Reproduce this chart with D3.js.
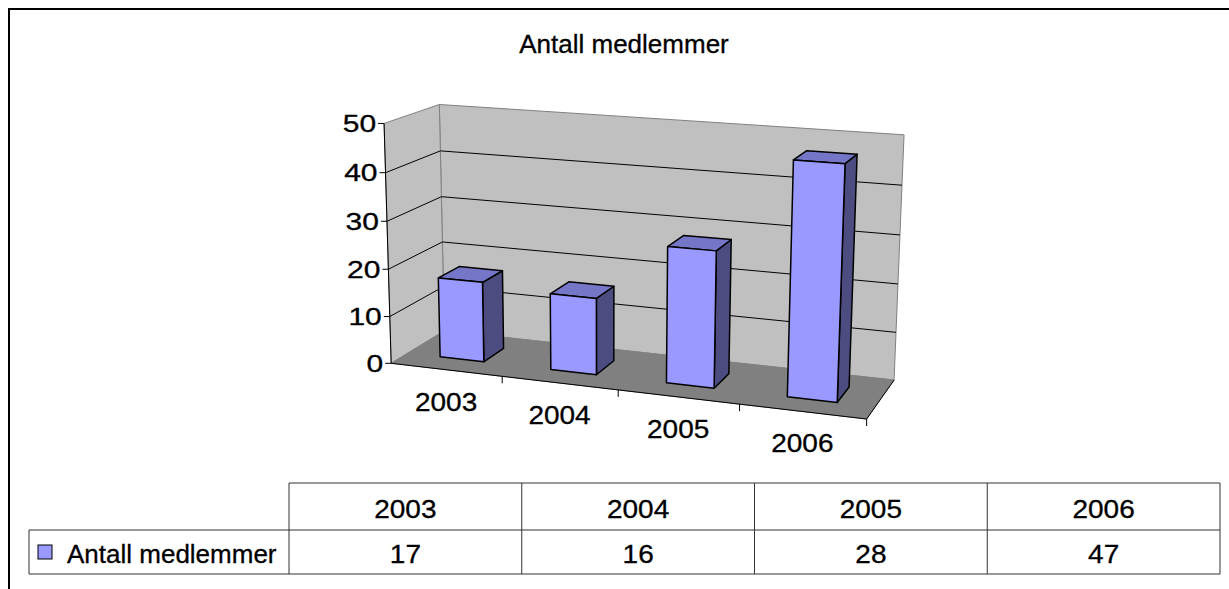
<!DOCTYPE html>
<html>
<head>
<meta charset="utf-8">
<script src="https://cdn.jsdelivr.net/npm/d3@7"></script>
<style>
    body { margin: 0; background: #fff; }
    text { font-family: Arial, "Liberation Sans", sans-serif; fill: #000; stroke: #000; stroke-width: 0.3px; }
</style>
</head>
<body>
<script>
'use strict';

// chart data
const years = ["2003", "2004", "2005", "2006"];
const members = [17, 16, 28, 47];
const seriesName = "Antall medlemmer";
const yTicks = [0, 10, 20, 30, 40, 50];

const W = 1229, H = 589;

// screen positions of the 3d plot box, used to fit the perspective
// [x, value, depth] in 0..1 -> [px, py]
const boxAnchors = [
    [0, 0, 0, 392, 363], [0, 1, 0, 383, 124], [0, 0, 1, 443, 333], [0, 1, 1, 440, 104],
    [1, 0, 1, 894, 379], [1, 1, 1, 904, 135], [1, 0, 0, 867, 420],
    [0.25, 0, 0, 503, 375], [0.5, 0, 0, 618, 390], [0.75, 0, 0, 739, 405],
    [0, 0.8, 0, 385, 173], [0, 0.6, 0, 387, 221], [0, 0.4, 0, 388.5, 269], [0, 0.2, 0, 390, 316],
    [1, 0.8, 1, 902, 185], [1, 0.6, 1, 900, 236], [1, 0.4, 1, 898, 283], [1, 0.2, 1, 896, 332],
    [0, 0.8, 1, 441, 151], [0, 0.6, 1, 442, 197], [0, 0.4, 1, 442, 241]
];

// fit a 3x4 projection matrix (DLT, least squares)
function fitProjection(pts) {
    const n = 11;
    const N = Array.from({ length: n }, () => new Array(n + 1).fill(0));
    const addRow = (row, b) => {
        for (let i = 0; i < n; i++) {
            for (let j = 0; j < n; j++) N[i][j] += row[i] * row[j];
            N[i][n] += row[i] * b;
        }
    };
    pts.forEach(([X, Y, Z, px, py]) => {
        const u = (px - 600) / 300, v = (py - 250) / 300;
        addRow([X, Y, Z, 1, 0, 0, 0, 0, -u * X, -u * Y, -u * Z], u);
        addRow([0, 0, 0, 0, X, Y, Z, 1, -v * X, -v * Y, -v * Z], v);
    });
    for (let c = 0; c < n; c++) {
        let p = c;
        for (let r = c + 1; r < n; r++) if (Math.abs(N[r][c]) > Math.abs(N[p][c])) p = r;
        [N[c], N[p]] = [N[p], N[c]];
        for (let r = 0; r < n; r++) {
            if (r === c) continue;
            const f = N[r][c] / N[c][c];
            for (let k = c; k <= n; k++) N[r][k] -= f * N[c][k];
        }
    }
    const m = N.map((row, i) => row[n] / row[i]);
    return function(X, Y, Z) {
        const w = m[8] * X + m[9] * Y + m[10] * Z + 1;
        const u = (m[0] * X + m[1] * Y + m[2] * Z + m[3]) / w;
        const v = (m[4] * X + m[5] * Y + m[6] * Z + m[7]) / w;
        return [u * 300 + 600, v * 300 + 250];
    };
}

const proj = fitProjection(boxAnchors);

// scales
const xBand = d3.scaleBand().domain(years).range([0, 1]);
const yScale = d3.scaleLinear().domain([0, 50]).range([0, 1]);
const zFront = 0.3, zBack = 0.7;

const line = d3.line();
const poly = (pts) => line(pts.map((p) => proj(p[0], p[1], p[2]))) + "Z";

const svg = d3.select("body").append("svg")
    .attr("width", W)
    .attr("height", H);

// outer frame (extends past the picture on the right and bottom)
svg.append("path")
    .attr("d", "M9," + (H + 5) + "V9H" + (W + 5))
    .attr("fill", "none")
    .attr("stroke", "#000")
    .attr("stroke-width", 2);

// title
svg.append("text")
    .attr("x", 624)
    .attr("y", 53)
    .attr("text-anchor", "middle")
    .style("font-size", "26px")
    .text(seriesName);

// walls and floor
svg.append("path")
    .attr("d", poly([[0, 0, 1], [1, 0, 1], [1, 1, 1], [0, 1, 1]]))
    .attr("fill", "#c0c0c0")
    .attr("stroke", "#808080");
svg.append("path")
    .attr("d", poly([[0, 0, 0], [0, 0, 1], [0, 1, 1], [0, 1, 0]]))
    .attr("fill", "#c0c0c0")
    .attr("stroke", "#808080");
svg.append("path")
    .attr("d", poly([[0, 0, 0], [1, 0, 0], [1, 0, 1], [0, 0, 1]]))
    .attr("fill", "#808080")
    .attr("stroke", "#808080");

// gridlines on left and back wall
const grid = yTicks.filter((t) => t > 0 && t < 50);
svg.append("g").selectAll("path")
    .data(grid)
    .enter()
    .append("path")
    .attr("d", (t) => line([proj(0, yScale(t), 0), proj(0, yScale(t), 1), proj(1, yScale(t), 1)]))
    .attr("fill", "none")
    .attr("stroke", "#000")
    .attr("stroke-width", 1);

// floor edges
svg.append("path")
    .attr("d", line([proj(0, 0, 0), proj(1, 0, 0), proj(1, 0, 1)]))
    .attr("fill", "none")
    .attr("stroke", "#000");

// bars
const bars = svg.append("g").selectAll("g")
    .data(years.map((y, i) => ({ year: y, value: members[i] })))
    .enter()
    .append("g")
    .attr("stroke", "#000")
    .attr("stroke-width", 1.5)
    .attr("stroke-linejoin", "round");

const x0 = (d) => xBand(d.year) + xBand.bandwidth() * 0.3;
const x1 = (d) => xBand(d.year) + xBand.bandwidth() * 0.7;
const barTop = (d) => yScale(d.value);

bars.append("path")
    .attr("fill", "#4c4c80")
    .attr("d", (d) => poly([[x1(d), 0, zFront], [x1(d), 0, zBack], [x1(d), barTop(d), zBack], [x1(d), barTop(d), zFront]]));
bars.append("path")
    .attr("fill", "#7676c8")
    .attr("d", (d) => poly([[x0(d), barTop(d), zFront], [x1(d), barTop(d), zFront], [x1(d), barTop(d), zBack], [x0(d), barTop(d), zBack]]));
bars.append("path")
    .attr("fill", "#9999ff")
    .attr("d", (d) => poly([[x0(d), 0, zFront], [x1(d), 0, zFront], [x1(d), barTop(d), zFront], [x0(d), barTop(d), zFront]]));

// y axis
svg.append("path")
    .attr("d", line([proj(0, 0, 0), proj(0, 1, 0)]))
    .attr("stroke", "#000");

const yAxis = svg.append("g").selectAll("g")
    .data(yTicks)
    .enter()
    .append("g");
yAxis.append("path")
    .attr("d", (t) => {
        const p = proj(0, yScale(t), 0);
        return "M" + (p[0] - 6) + "," + p[1] + "H" + p[0];
    })
    .attr("stroke", "#000");
yAxis.append("text")
    .attr("transform", (t) => {
        const p = proj(0, yScale(t), 0);
        return "translate(" + (p[0] - 8) + "," + (p[1] + 8.5) + ")scale(1.25,1)";
    })
    .attr("text-anchor", "end")
    .style("font-size", "24px")
    .text((t) => t);

// x axis ticks and labels
svg.append("g").selectAll("path")
    .data(years)
    .enter()
    .append("path")
    .attr("d", (y) => {
        const p = proj(xBand(y) + xBand.bandwidth(), 0, 0);
        return "M" + p[0] + "," + p[1] + "V" + (p[1] + 7);
    })
    .attr("stroke", "#000");

svg.append("g").selectAll("text")
    .data(years)
    .enter()
    .append("text")
    .attr("transform", (y) => {
        const p = proj(xBand(y) + xBand.bandwidth() / 2, 0, 0);
        return "translate(" + p[0] + "," + (p[1] + 41) + ")scale(1.12,1)";
    })
    .attr("text-anchor", "middle")
    .style("font-size", "25px")
    .text((y) => y);

// data table
const tableX = d3.scaleBand().domain(years).range([289, 1220]);
const rowTop = 483, rowMid = 530, rowBot = 574, tableLeft = 29;

const table = svg.append("g")
    .attr("stroke", "#333")
    .attr("stroke-width", 1)
    .attr("fill", "none");
table.append("path").attr("d", "M289," + rowTop + "H1220");
table.append("path").attr("d", "M" + tableLeft + "," + rowMid + "H1220");
table.append("path").attr("d", "M" + tableLeft + "," + rowBot + "H1220");
table.append("path").attr("d", "M" + tableLeft + "," + rowMid + "V" + rowBot);
table.selectAll(".col")
    .data(years.concat(["end"]))
    .enter()
    .append("path")
    .attr("d", (y, i) => {
        const x = i < years.length ? tableX(y) : 1220;
        return "M" + x + "," + rowTop + "V" + rowBot;
    });

svg.append("g").selectAll("text")
    .data(years)
    .enter()
    .append("text")
    .attr("transform", (y) => "translate(" + (tableX(y) + tableX.bandwidth() / 2) + ",518)scale(1.12,1)")
    .attr("text-anchor", "middle")
    .style("font-size", "25px")
    .text((y) => y);

svg.append("g").selectAll("text")
    .data(members)
    .enter()
    .append("text")
    .attr("transform", (v, i) => "translate(" + (tableX(years[i]) + tableX.bandwidth() / 2) + ",563)scale(1.12,1)")
    .attr("text-anchor", "middle")
    .style("font-size", "25px")
    .text((v) => v);

// legend key in the table
svg.append("rect")
    .attr("x", 38)
    .attr("y", 545)
    .attr("width", 14)
    .attr("height", 14)
    .attr("fill", "#9999ff")
    .attr("stroke", "#000");

svg.append("text")
    .attr("x", 67)
    .attr("y", 563)
    .style("font-size", "26px")
    .text(seriesName);
</script>
</body>
</html>
